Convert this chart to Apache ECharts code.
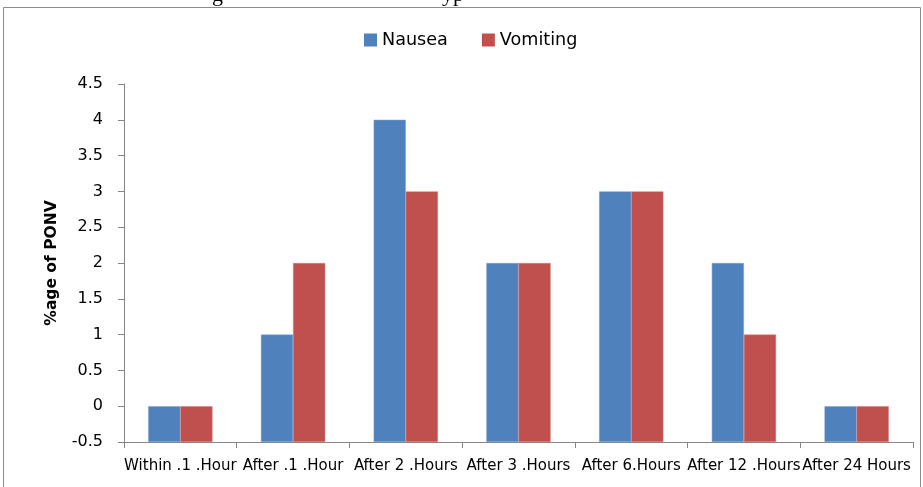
<!DOCTYPE html>
<html>
<head>
<meta charset="utf-8">
<script src="https://cdn.jsdelivr.net/npm/echarts@6/dist/echarts.min.js"></script>
<style>
html,body{margin:0;padding:0;background:#fff;}
#c{width:923px;height:487px;}
</style>
</head>
<body>
<div id="c"></div>
<script>
var categories = ['Within .1 .Hour', 'After .1 .Hour', 'After 2 .Hours', 'After 3 .Hours', 'After 6.Hours', 'After 12 .Hours', 'After 24 Hours'];
var nausea = [0, 1, 4, 2, 3, 2, 0];
var vomiting = [0, 2, 3, 2, 3, 1, 0];
var axisMin = -0.5;
var axisMax = 4.5;
var axisStep = 0.5;

var chart = echarts.init(document.getElementById('c'), null, {renderer: 'canvas'});
var font = 'DejaVu Sans';

function baseOf(arr) { return arr.map(function () { return axisMin; }); }
function liftOf(arr) { return arr.map(function (v) { return v - axisMin; }); }

chart.setOption({
  animation: false,
  backgroundColor: '#fff',
  graphic: [
    {type: 'rect', shape: {x: 3.5, y: 7.5, width: 917, height: 490}, style: {fill: 'none', stroke: '#8c8c8c', lineWidth: 1}, z: 0},
    {type: 'text', x: 212, y: -16, style: {text: 'g', font: '22px "Liberation Serif"', fill: '#000'}},
    {type: 'text', x: 442, y: -16, style: {text: 'yp', font: '22px "Liberation Serif"', fill: '#000'}}
  ],
  legend: {
    data: ['Nausea', 'Vomiting'],
    top: 26,
    left: 359,
    itemWidth: 13,
    itemHeight: 13,
    itemGap: 34,
    icon: 'rect',
    itemStyle: {borderWidth: 0},
    textStyle: {fontFamily: font, fontSize: 17.6, color: '#000', padding: [0, 0, 0, 0]}
  },
  grid: {left: 124, right: 10, top: 84, bottom: 45, containLabel: false},
  xAxis: {
    type: 'category',
    data: categories,
    boundaryGap: true,
    axisLine: {onZero: false, lineStyle: {color: '#868686', width: 1}},
    axisTick: {show: true, length: 6, inside: false, alignWithLabel: false, lineStyle: {color: '#868686'}},
    axisLabel: {interval: 0, fontFamily: font, fontSize: 15, color: '#000', margin: 17}
  },
  yAxis: {
    type: 'value',
    min: axisMin,
    max: axisMax,
    interval: axisStep,
    name: '%age of PONV',
    nameLocation: 'middle',
    nameGap: 64,
    nameRotate: 90,
    nameTextStyle: {fontFamily: font, fontSize: 15.5, fontWeight: 'bold', color: '#000'},
    splitLine: {show: false},
    axisLine: {show: true, lineStyle: {color: '#868686', width: 1}},
    axisTick: {show: true, length: 6, lineStyle: {color: '#868686'}},
    axisLabel: {fontFamily: font, fontSize: 16, color: '#000', margin: 21}
  },
  series: [
    {name: 'baseN', type: 'bar', stack: 'n', stackStrategy: 'all', data: baseOf(nausea),
     itemStyle: {color: 'rgba(0,0,0,0)'}, barGap: '0%', barCategoryGap: '43%', silent: true},
    {name: 'Nausea', type: 'bar', stack: 'n', stackStrategy: 'all', data: liftOf(nausea),
     itemStyle: {color: '#4F81BD', borderColor: '#7BA0CD', borderWidth: 0.5}, barGap: '0%', barCategoryGap: '43%'},
    {name: 'baseV', type: 'bar', stack: 'v', stackStrategy: 'all', data: baseOf(vomiting),
     itemStyle: {color: 'rgba(0,0,0,0)'}, barGap: '0%', barCategoryGap: '43%', silent: true},
    {name: 'Vomiting', type: 'bar', stack: 'v', stackStrategy: 'all', data: liftOf(vomiting),
     itemStyle: {color: '#C0504D', borderColor: '#D07C7A', borderWidth: 0.5}, barGap: '0%', barCategoryGap: '43%'}
  ]
});
</script>
</body>
</html>
